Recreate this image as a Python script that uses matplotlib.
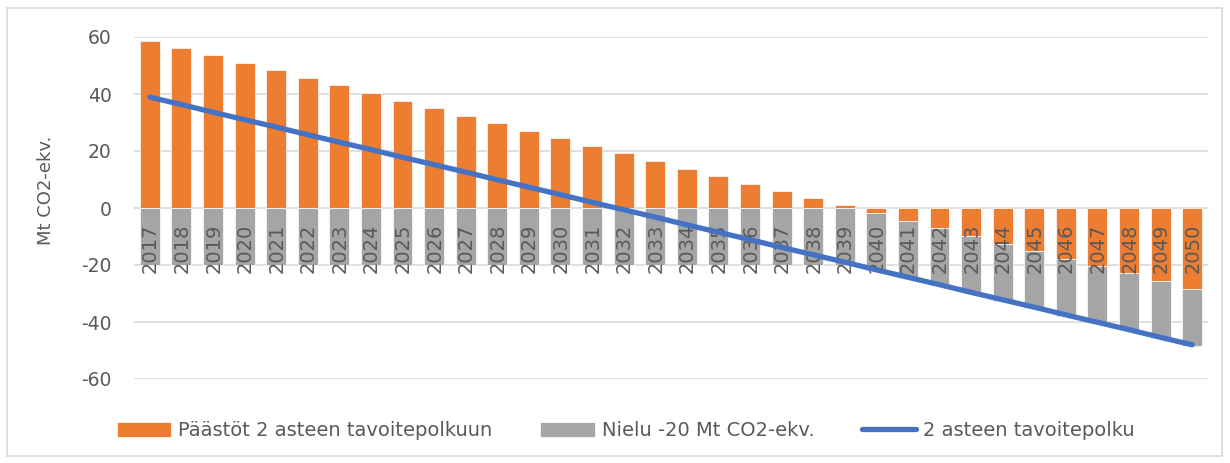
import matplotlib.pyplot as plt
from matplotlib.patches import Rectangle

years = list(range(2017, 2051))

# päästöt 2 asteen tavoitepolkuun (Mt CO2-ekv.)
paastot = [58.6, 56.1, 53.7, 50.9, 48.4, 45.6, 43.2, 40.4, 37.5, 35.1,
           32.3, 29.8, 27.0, 24.6, 21.8, 19.3, 16.5, 13.7, 11.2, 8.4,
           6.0, 3.5, 0.9, -1.8, -4.6, -7.1, -9.8, -12.6, -15.2, -17.9,
           -20.4, -22.9, -25.6, -28.4]

# nielu
nielu = [-20.0] * len(years)

# 2 asteen tavoitepolku
polku = [38.9, 36.3, 33.6, 31.0, 28.4, 25.7, 23.1, 20.5, 17.8, 15.2,
         12.6, 9.9, 7.3, 4.7, 2.0, -0.6, -3.2, -5.9, -8.5, -11.1,
         -13.8, -16.4, -19.0, -21.7, -24.3, -26.9, -29.6, -32.2, -34.8, -37.5,
         -40.1, -42.7, -45.4, -48.0]

yticks = [-60, -40, -20, 0, 20, 40, 60]

ORANGE = '#ED7D31'
GREY = '#A5A5A5'
BLUE = '#4472C4'
TXT = '#595959'


def main():
    fig = plt.figure(figsize=(12.3, 4.63), dpi=100)
    ax = fig.add_axes([134 / 1230, 1 - 379 / 463, (1208 - 134) / 1230, (379 - 37) / 463])
    ax.set_axisbelow(True)

    x = list(range(len(years)))
    # negatiiviset kasautuvat negatiivisten päälle (kuten Excelissä)
    nielu_bottom = [min(p, 0) for p in paastot]

    b1 = ax.bar(x, paastot, width=0.63, color=ORANGE, edgecolor='white', linewidth=0.5,
                label='Päästöt 2 asteen tavoitepolkuun', zorder=1)
    b2 = ax.bar(x, nielu, bottom=nielu_bottom, width=0.63, color=GREY, edgecolor='white',
                linewidth=0.5, label='Nielu -20 Mt CO2-ekv.', zorder=1)

    for xi, yr in zip(x, years):
        ax.annotate(str(yr), (xi, 0), xytext=(0.5, -11), textcoords='offset points',
                    rotation=90, ha='center', va='top', fontsize=14, color=TXT, zorder=3)

    l1, = ax.plot(x, polku, color=BLUE, linewidth=3.8, solid_capstyle='round',
                  label='2 asteen tavoitepolku', zorder=4)

    ax.set_xlim(-0.5, len(years) - 0.5)
    ax.set_ylim(-60, 60)
    ax.set_yticks(yticks)
    ax.set_yticklabels([str(v) for v in yticks])
    ax.set_xticks([])
    ax.tick_params(axis='y', length=0, pad=16, labelsize=13.5, labelcolor=TXT)
    ax.grid(axis='y', color='#D9D9D9', linewidth=1.2)
    for s in ax.spines.values():
        s.set_visible(False)

    fig.text(46 / 1230, 1 - 190 / 463, 'Mt CO2-ekv.', rotation=90, ha='center',
             va='center', fontsize=13, color=TXT)

    fig.legend(handles=[b1, b2, l1], loc='center',
               bbox_to_anchor=(626 / 1230, 1 - 431 / 463), ncol=3,
               frameon=False, fontsize=14, handlelength=2.8, handleheight=0.77,
               handletextpad=0.36, columnspacing=2.45, labelcolor=TXT)

    fig.patches.append(Rectangle((7 / 1230, 7 / 463), 1 - 15 / 1230, 1 - 15 / 463,
                                 transform=fig.transFigure, fill=False,
                                 edgecolor='#D9D9D9', linewidth=1.2))

    fig.savefig('out.png', dpi=100)


if __name__ == '__main__':
    main()
